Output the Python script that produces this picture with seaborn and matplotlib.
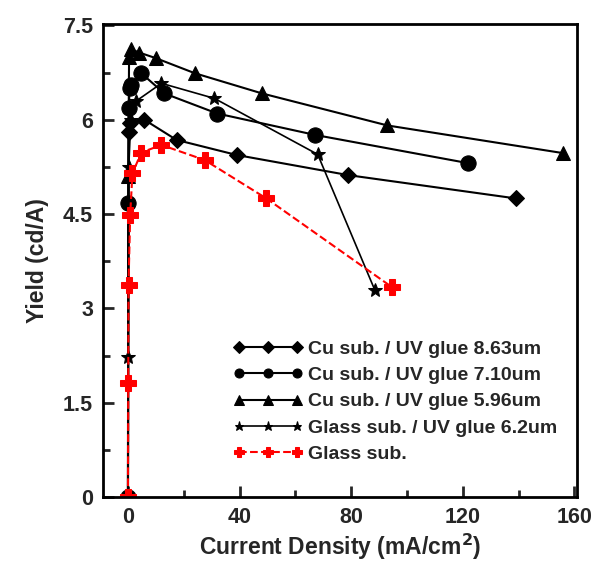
import matplotlib
matplotlib.use("Agg")
import matplotlib.pyplot as plt
import seaborn as sns
import pandas as pd
from matplotlib.ticker import MultipleLocator

sns.set_theme(style="white")
plt.rcParams['font.family'] = ['Liberation Sans', 'DejaVu Sans']
plt.rcParams['font.weight'] = 'bold'

labels = ["Cu sub. / UV glue 8.63um", "Cu sub. / UV glue 7.10um",
          "Cu sub. / UV glue 5.96um", "Glass sub. / UV glue 6.2um", "Glass sub."]

x_863 = [0, 0.3, 0.8, 5.9, 17.4, 39, 79, 139]
y_863 = [0, 5.8, 5.95, 6.0, 5.68, 5.44, 5.12, 4.75]

x_710 = [0, 0.1, 0.3, 0.6, 1.2, 4.8, 13, 32, 67, 122]
y_710 = [0, 4.67, 6.18, 6.5, 6.55, 6.74, 6.42, 6.1, 5.76, 5.31]

x_596 = [0, 0.1, 0.4, 1.2, 4, 10, 24, 48, 93, 156]
y_596 = [0, 5.1, 7.0, 7.12, 7.07, 6.98, 6.74, 6.42, 5.91, 5.47]

x_62 = [0, 0.1, 0.3, 1, 3, 12, 31, 68, 88.5]
y_62 = [0, 2.23, 5.25, 6.0, 6.3, 6.58, 6.34, 5.45, 3.29]

x_glass = [0, 0.1, 0.2, 0.8, 1.6, 4.8, 12, 27.5, 49.6, 94.6]
y_glass = [0, 1.81, 3.38, 4.49, 5.15, 5.48, 5.6, 5.36, 4.75, 3.34]

xticks = [0, 40, 80, 120, 160]
yticks = [0, 1.5, 3, 4.5, 6, 7.5]
ytick_labels = ["0", "1.5", "3", "4.5", "6", "7.5"]

series = [(x_863, y_863, 'D', 'black', '-', 8, 1.5),
          (x_710, y_710, 'o', 'black', '-', 11, 1.5),
          (x_596, y_596, '^', 'black', '-', 10, 1.5),
          (x_62, y_62, '*', 'black', '-', 10, 1.2),
          (x_glass, y_glass, 'P', 'red', '--', 12, 1.5)]

fig = plt.figure(figsize=(6.05, 5.63), dpi=100)
ax = fig.add_axes([0.170, 0.117, 0.784, 0.840])

for (xs, ys, mk, col, ls, ms, lw), lab in zip(series, labels):
    df = pd.DataFrame({"x": xs, "y": ys})
    sns.lineplot(data=df, x="x", y="y", ax=ax, sort=False, marker=mk, color=col,
                 linestyle=ls, markersize=ms, markeredgecolor=col, linewidth=lw,
                 label=lab, estimator=None)

ax.set_xlim(-9, 161)
ax.set_ylim(0, 7.52)
ax.set_xticks(xticks)
ax.set_xticklabels([str(t) for t in xticks])
ax.set_yticks(yticks)
ax.set_yticklabels(ytick_labels)
ax.xaxis.set_minor_locator(MultipleLocator(20))
ax.yaxis.set_minor_locator(MultipleLocator(0.75))
ax.tick_params(which='major', direction='in', length=8, width=2, labelsize=15.5,
               bottom=True, left=True, top=False, right=False, pad=7)
ax.tick_params(which='minor', direction='in', length=5, width=2,
               bottom=True, left=True, top=False, right=False)
for lab in ax.get_xticklabels() + ax.get_yticklabels():
    lab.set_fontweight('bold')
for s in ax.spines.values():
    s.set_linewidth(2)
    s.set_color('black')

ax.set_xlabel("Current Density (mA/cm$^2$)", fontsize=16.5, fontweight='bold', labelpad=3)
ax.set_ylabel("Yield (cd/A)", fontsize=16.5, fontweight='bold', labelpad=10)

leg = ax.legend(loc='lower right', bbox_to_anchor=(0.995, 0.035), frameon=False,
                numpoints=3, handlelength=3.6, handletextpad=0.25, labelspacing=0.45,
                prop={'weight': 'bold', 'size': 14})
for h in leg.legend_handles:
    h.set_markersize(6.5)

fig.savefig("out.png", dpi=100)
